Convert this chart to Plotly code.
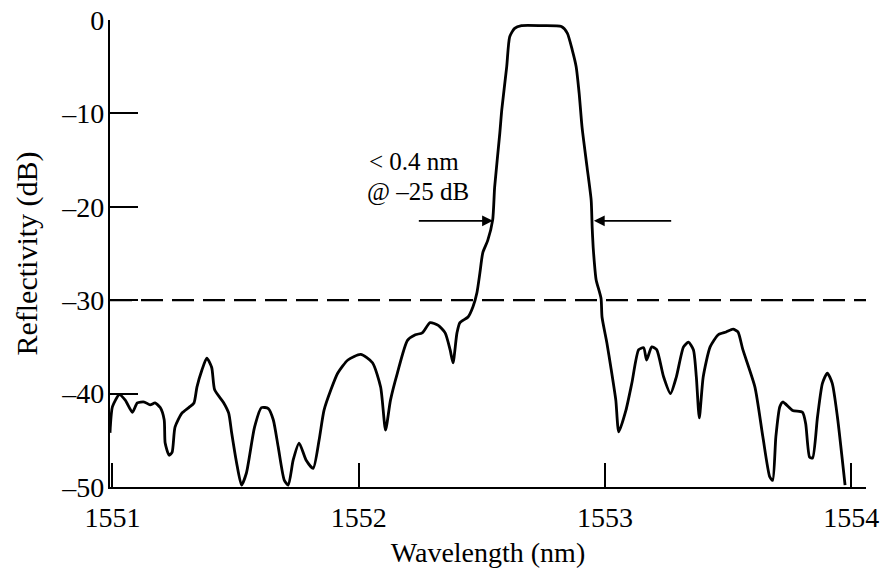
import plotly.graph_objects as go

wavelength_nm = [
    1550.990, 1551.000, 1551.028, 1551.052, 1551.081, 1551.101, 1551.129, 1551.153,
    1551.173, 1551.194, 1551.210, 1551.214, 1551.230, 1551.242, 1551.254, 1551.282,
    1551.310, 1551.331, 1551.343, 1551.363, 1551.383, 1551.403, 1551.415, 1551.452,
    1551.472, 1551.484, 1551.504, 1551.524, 1551.544, 1551.577, 1551.605, 1551.633,
    1551.653, 1551.673, 1551.698, 1551.714, 1551.734, 1551.758, 1551.786, 1551.815,
    1551.839, 1551.859, 1551.887, 1551.915, 1551.956, 1552.008, 1552.056, 1552.089,
    1552.109, 1552.129, 1552.157, 1552.198, 1552.230, 1552.258, 1552.290, 1552.323,
    1552.351, 1552.371, 1552.383, 1552.399, 1552.411, 1552.444, 1552.464, 1552.480,
    1552.492, 1552.504, 1552.524, 1552.544, 1552.552, 1552.573, 1552.581, 1552.601,
    1552.613, 1552.633, 1552.661, 1552.742, 1552.823, 1552.847, 1552.867, 1552.883,
    1552.895, 1552.907, 1552.927, 1552.944, 1552.948, 1552.952, 1552.956, 1552.964,
    1552.984, 1552.988, 1553.008, 1553.024, 1553.044, 1553.056, 1553.085, 1553.109,
    1553.137, 1553.157, 1553.169, 1553.190, 1553.210, 1553.238, 1553.266, 1553.290,
    1553.319, 1553.339, 1553.359, 1553.371, 1553.383, 1553.399, 1553.427, 1553.460,
    1553.492, 1553.520, 1553.540, 1553.560, 1553.609, 1553.641, 1553.669, 1553.681,
    1553.694, 1553.710, 1553.722, 1553.762, 1553.802, 1553.815, 1553.831, 1553.843,
    1553.863, 1553.883, 1553.903, 1553.923, 1553.944, 1553.975,
]
reflectivity_db = [
    -44.2, -41.4, -40.1, -40.7, -42.0, -41.0, -40.9, -41.2,
    -41.0, -41.5, -42.8, -45.3, -46.6, -46.3, -43.6, -42.1,
    -41.5, -41.0, -39.3, -37.5, -36.2, -37.2, -39.6, -41.0,
    -42.1, -44.2, -47.4, -49.8, -48.5, -43.6, -41.5, -41.6,
    -42.8, -45.7, -49.3, -49.8, -47.1, -45.3, -47.1, -48.0,
    -45.0, -41.8, -39.6, -37.8, -36.4, -35.8, -36.7, -39.3,
    -43.9, -40.7, -37.8, -34.3, -33.7, -33.5, -32.4, -32.7,
    -33.5, -35.3, -36.7, -33.5, -32.4, -31.8, -30.7, -29.2,
    -27.1, -24.9, -23.6, -21.4, -17.9, -12.1, -9.6, -5.0,
    -1.8, -0.9, -0.6, -0.6, -0.7, -1.4, -3.2, -5.0,
    -7.8, -11.5, -15.7, -19.3, -22.2, -24.3, -25.7, -27.8,
    -29.8, -31.8, -34.6, -37.2, -40.7, -44.1, -41.8, -38.9,
    -35.3, -35.1, -36.4, -35.0, -35.3, -38.2, -40.0, -38.2,
    -35.0, -34.5, -35.3, -38.2, -42.6, -38.2, -35.0, -33.7,
    -33.4, -33.1, -33.4, -35.3, -39.3, -44.6, -48.9, -49.3,
    -44.6, -41.4, -40.9, -41.8, -42.0, -43.2, -46.8, -46.9,
    -42.5, -38.9, -37.8, -38.9, -42.5, -49.8,
]

x_ticks = [1551, 1552, 1553, 1554]
y_ticks = [0, -10, -20, -30, -40, -50]
threshold_db = -30
bandwidth_label = ["< 0.4 nm", "@ –25 dB"]
arrow_level_db = -21.5
left_arrow = (1552.238, 1552.545)   # tail, head
right_arrow = (1553.275, 1552.955)  # tail, head

FONT = "Liberation Serif, Times New Roman, serif"

fig = go.Figure()
fig.add_trace(go.Scatter(
    x=wavelength_nm, y=reflectivity_db, mode="lines",
    line=dict(color="black", width=2.8, shape="spline", smoothing=0.6),
    showlegend=False, hoverinfo="skip",
))

fig.add_shape(type="line", xref="x", yref="y",
              x0=1550.99, x1=1554.06, y0=threshold_db, y1=threshold_db,
              line=dict(color="black", width=2.2, dash="22px,9px"))

fig.add_annotation(x=1552.225, y=-15.2, text=bandwidth_label[0], showarrow=False,
                   font=dict(family=FONT, size=25, color="black"), xanchor="center")
fig.add_annotation(x=1552.24, y=-18.4, text=bandwidth_label[1], showarrow=False,
                   font=dict(family=FONT, size=25, color="black"), xanchor="center")
for tail, head in (left_arrow, right_arrow):
    fig.add_annotation(x=head, y=arrow_level_db, ax=tail, ay=arrow_level_db,
                       xref="x", yref="y", axref="x", ayref="y", text="",
                       showarrow=True, arrowhead=2, arrowsize=1.2, arrowwidth=1.8,
                       arrowcolor="black")

fig.update_layout(
    width=883, height=574,
    margin=dict(l=110, r=17, t=20, b=87, autoexpand=False),
    paper_bgcolor="white", plot_bgcolor="white",
    font=dict(family=FONT, color="black", size=28),
)
fig.update_xaxes(
    range=[1550.99, 1554.06], tickvals=x_ticks, ticktext=[str(v) for v in x_ticks],
    showgrid=False, zeroline=False, showline=True, linecolor="black", linewidth=2.2,
    ticks="inside", ticklen=24, tickwidth=2, tickcolor="black",
    ticklabelstandoff=4, automargin=False, ticklabeloverflow="allow",
    tickfont=dict(family=FONT, size=28),
    title=dict(text="Wavelength (nm)", font=dict(family=FONT, size=28), standoff=11),
)
fig.update_yaxes(
    range=[-50, 0], tickvals=y_ticks, ticktext=[("–" + str(-v)) if v < 0 else "0" for v in y_ticks],
    showgrid=False, zeroline=False, showline=True, linecolor="black", linewidth=2.2,
    ticks="inside", ticklen=28, tickwidth=2, tickcolor="black",
    ticklabelstandoff=-2, automargin=False, ticklabeloverflow="allow",
    tickfont=dict(family=FONT, size=28),
    title=dict(text="Reflectivity (dB)", font=dict(family=FONT, size=30), standoff=15),
)

fig.write_html(
    "out.html",
    config={"displayModeBar": False},
    post_script="document.body.style.margin='0';document.body.style.overflow='hidden';",
)
